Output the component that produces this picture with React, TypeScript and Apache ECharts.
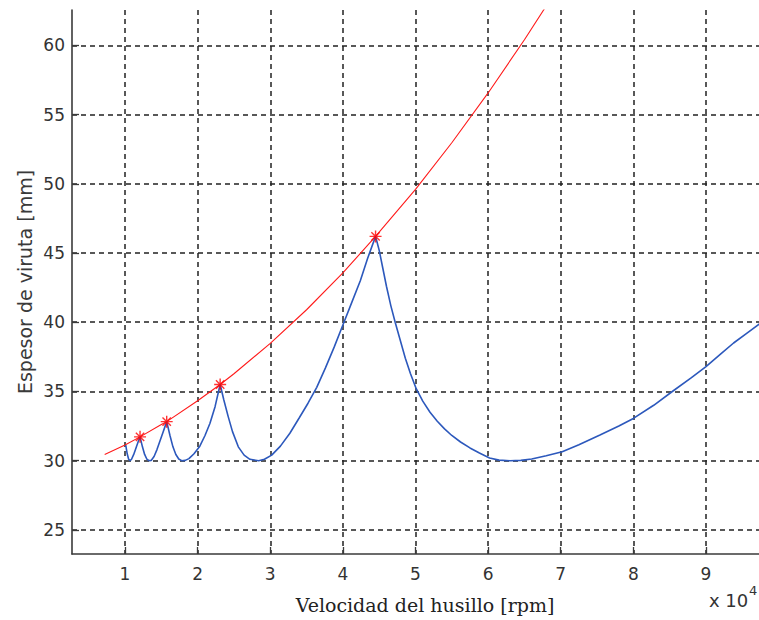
import React, { useEffect, useRef } from "react";
import * as echarts from "echarts";

// Tick values (x axis in units of 10^4 rpm)
const xTicks = [1, 2, 3, 4, 5, 6, 7, 8, 9];
const yTicks = [25, 30, 35, 40, 45, 50, 55, 60];

// Stability lobes (blue): [speed x10^4 rpm, chip thickness mm]
const lobeX = [
  1.01, 1.03, 1.05, 1.07, 1.09, 1.12, 1.15, 1.18, 1.207,
  1.24, 1.27, 1.30, 1.33, 1.36, 1.40, 1.44, 1.48, 1.52, 1.574,
  1.62, 1.66, 1.70, 1.74, 1.78, 1.83, 1.88, 1.95, 2.03, 2.10, 2.17, 2.24, 2.31,
  2.36, 2.42, 2.48, 2.56, 2.64, 2.72, 2.84, 2.92, 3.02, 3.14, 3.27, 3.40, 3.52,
  3.64, 3.76, 3.88, 4.00, 4.12, 4.24, 4.34, 4.45,
  4.50, 4.55, 4.60, 4.66, 4.72, 4.79, 4.86, 4.93, 5.01, 5.10, 5.20, 5.30, 5.40,
  5.50, 5.62, 5.75, 5.88, 6.02, 6.15, 6.30, 6.45, 6.60, 6.80, 7.02, 7.25, 7.54,
  7.80, 8.00, 8.28, 8.55, 8.80, 9.00, 9.20, 9.38, 9.56, 9.74,
];
const lobeY = [
  31.13, 30.5, 30.1, 30.0, 30.1, 30.45, 30.9, 31.35, 31.72,
  31.0, 30.45, 30.12, 30.0, 30.02, 30.3, 30.8, 31.4, 32.0, 32.82,
  31.8, 31.0, 30.45, 30.12, 30.0, 30.02, 30.15, 30.5, 31.05, 31.8, 32.7, 33.9, 35.5,
  34.4, 33.2, 32.1, 31.0, 30.4, 30.1, 30.0, 30.1, 30.4, 31.05, 31.98, 33.1, 34.15,
  35.3, 36.7, 38.2, 39.8, 41.4, 43.0, 44.6, 46.2,
  45.2, 43.9, 42.6, 41.2, 40.0, 38.7, 37.4, 36.3, 35.2, 34.3, 33.5, 32.85, 32.3,
  31.82, 31.35, 30.92, 30.55, 30.2, 30.04, 30.0, 30.02, 30.12, 30.35, 30.65, 31.15, 31.85,
  32.5, 33.05, 34.0, 35.05, 36.0, 36.8, 37.7, 38.5, 39.2, 39.9,
];

// Limit curve (red)
const limitX = [0.72, 1.0, 1.207, 1.5, 1.574, 2.0, 2.31, 2.5, 3.0, 3.5, 4.0, 4.45, 5.0, 5.5, 6.0, 6.5, 7.0];
const limitY = [30.45, 31.13, 31.72, 32.62, 32.82, 34.33, 35.5, 36.28, 38.47, 40.9, 43.56, 46.2, 49.6, 52.96, 56.56, 60.4, 64.47];

// Lobe peaks (red asterisks)
const peakX = [1.207, 1.574, 2.31, 4.45];
const peakY = [31.72, 32.82, 35.5, 46.2];

const zip = (a: number[], b: number[]) => a.map((v, i) => [v, b[i]]);

const gridColor = "#222";
const axisColor = "#3a3a3a";
const labelColor = "#333";

export default function App() {
  const ref = useRef<HTMLDivElement>(null);
  useEffect(() => {
    if (!ref.current) return;
    const chart = echarts.init(ref.current, null, { renderer: "svg" });
    chart.setOption({
      animation: false,
      backgroundColor: "#ffffff",
      grid: { left: 72, right: 0, top: 10, bottom: 66 },
      xAxis: {
        type: "value",
        min: 0.27,
        max: 9.73,
        axisLine: { show: true, onZero: false, lineStyle: { color: axisColor, width: 1.6 } },
        axisTick: { show: true, inside: true, length: 7, customValues: xTicks, lineStyle: { color: axisColor, width: 1.3 } },
        axisLabel: {
          customValues: xTicks,
          margin: 11,
          color: labelColor,
          fontFamily: "DejaVu Sans",
          fontSize: 17,
          formatter: (v: number) => String(Math.round(v)),
        },
        splitLine: { show: true, lineStyle: { color: gridColor, width: 1.5, type: [5, 4] } },
      },
      yAxis: {
        type: "value",
        min: 23.26,
        max: 62.55,
        axisLine: { show: true, onZero: false, lineStyle: { color: axisColor, width: 1.6 } },
        axisTick: { show: true, inside: true, length: 7, customValues: yTicks, lineStyle: { color: axisColor, width: 1.3 } },
        axisLabel: {
          customValues: yTicks,
          margin: 7,
          color: labelColor,
          fontFamily: "DejaVu Sans",
          fontSize: 17,
          formatter: (v: number) => String(Math.round(v)),
        },
        splitLine: { show: true, lineStyle: { color: gridColor, width: 1.5, type: [5, 4] } },
      },
      series: [
        {
          type: "line",
          data: zip(limitX, limitY),
          showSymbol: false,
          smooth: false,
          clip: true,
          lineStyle: { color: "#ff1a1a", width: 1.1 },
          z: 3,
        },
        {
          type: "line",
          data: zip(lobeX, lobeY),
          showSymbol: false,
          smooth: false,
          clip: true,
          lineStyle: { color: "#2c58bc", width: 1.6 },
          z: 4,
        },
        {
          type: "scatter",
          data: zip(peakX, peakY),
          symbol: "path://M5,0L5,10M0,5L10,5M1.5,1.5L8.5,8.5M1.5,8.5L8.5,1.5",
          symbolSize: 12,
          itemStyle: { color: "rgba(0,0,0,0)", borderColor: "#ff0000", borderWidth: 1.4 },
          z: 5,
        },
      ],
      graphic: [
        {
          type: "text",
          x: 425,
          y: 605,
          style: {
            text: "Velocidad del husillo [rpm]",
            align: "center",
            verticalAlign: "middle",
            fontFamily: "DejaVu Serif",
            fontSize: 19,
            fill: "#222",
          },
        },
        {
          type: "text",
          x: 25,
          y: 282,
          rotation: Math.PI / 2,
          style: {
            text: "Espesor de viruta [mm]",
            align: "center",
            verticalAlign: "middle",
            fontFamily: "DejaVu Sans",
            fontSize: 19,
            fill: "#3a3a3a",
          },
        },
        {
          type: "text",
          x: 709,
          y: 600,
          style: {
            text: "x 10",
            align: "left",
            verticalAlign: "middle",
            fontFamily: "DejaVu Sans",
            fontSize: 18,
            fill: "#333",
          },
        },
        {
          type: "text",
          x: 749,
          y: 590,
          style: {
            text: "4",
            align: "left",
            verticalAlign: "middle",
            fontFamily: "DejaVu Sans",
            fontSize: 13,
            fill: "#333",
          },
        },
      ],
    });
    return () => chart.dispose();
  }, []);
  return <div ref={ref} style={{ position: "fixed", left: 0, top: 0, width: 759, height: 620 }} />;
}
